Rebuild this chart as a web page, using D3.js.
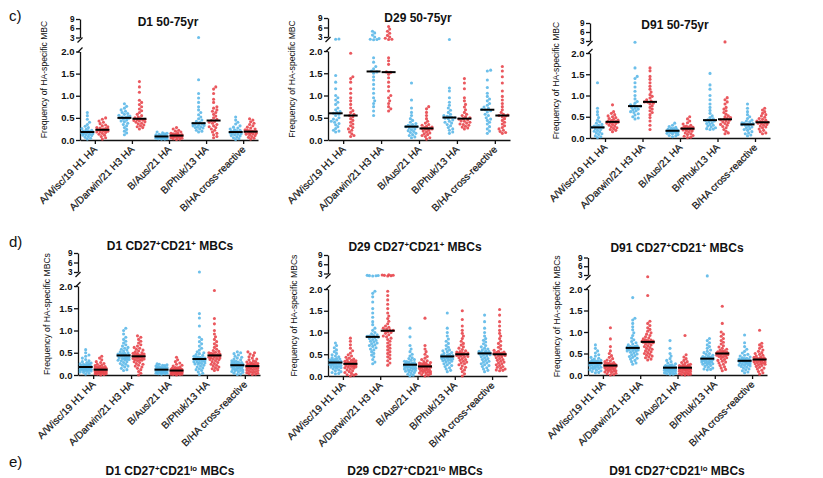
<!DOCTYPE html>
<html>
<head>
<meta charset="UTF-8" />
<title>HA-specific MBC frequencies</title>
<script src="https://cdn.jsdelivr.net/npm/d3@7"></script>
<style>
  body { margin: 0; background: #fff; }
  text { font-family: "Liberation Sans", Arial, sans-serif; fill: #111; }
</style>
</head>
<body>
<svg id="fig" width="823" height="478"></svg>
<script>
// categories and axis ticks
const categories = ["A/Wisc/19 H1 HA", "A/Darwin/21 H3 HA", "B/Aus/21 HA", "B/Phuk/13 HA", "B/HA cross-reactive"];
const yTicksLow = [0, 0.5, 1, 1.5, 2];
const yTicksHigh = [3, 6, 9];

// c) total HA-specific MBC, 50-75yr  (one array per category)
const c1Blue = [
  [0.62,0.55,0.47,0.40,0.35,0.31,0.28,0.26,0.24,0.22,0.21,0.20,0.19,0.18,0.18,0.17,0.16,0.15,0.14,0.13,0.12,0.11,0.10,0.08,0.06,0.04,0.02],
  [0.82,0.76,0.72,0.68,0.65,0.62,0.60,0.58,0.56,0.54,0.53,0.52,0.51,0.50,0.49,0.47,0.45,0.43,0.41,0.38,0.35,0.32,0.28,0.24,0.20,0.16,0.12],
  [0.18,0.16,0.15,0.14,0.13,0.12,0.11,0.10,0.10,0.09,0.09,0.08,0.08,0.08,0.07,0.07,0.07,0.06,0.06,0.05,0.05,0.04,0.04,0.03,0.03,0.02,0.02],
  [3.0,1.36,1.05,0.95,0.85,0.75,0.68,0.62,0.57,0.52,0.48,0.45,0.42,0.40,0.38,0.37,0.36,0.35,0.34,0.33,0.32,0.30,0.29,0.28,0.27,0.25,0.22,0.20,0.18],
  [0.52,0.45,0.40,0.36,0.32,0.29,0.27,0.25,0.23,0.22,0.21,0.20,0.19,0.18,0.18,0.17,0.16,0.15,0.14,0.13,0.12,0.10,0.09,0.07,0.05,0.03,0.01]
];
const c1Red = [
  [0.50,0.47,0.43,0.40,0.37,0.34,0.32,0.30,0.28,0.27,0.26,0.25,0.24,0.23,0.23,0.22,0.21,0.20,0.19,0.18,0.17,0.15,0.13,0.11,0.08,0.05,0.02],
  [1.32,1.20,1.08,0.90,0.85,0.80,0.75,0.70,0.66,0.62,0.58,0.55,0.52,0.50,0.48,0.47,0.46,0.45,0.44,0.43,0.41,0.40,0.38,0.36,0.34,0.32,0.30,0.28,0.25],
  [0.28,0.25,0.22,0.20,0.18,0.16,0.15,0.14,0.13,0.12,0.12,0.11,0.11,0.10,0.10,0.10,0.09,0.09,0.08,0.08,0.07,0.06,0.05,0.04,0.03,0.02,0.01],
  [1.20,1.15,1.05,0.92,0.85,0.75,0.72,0.68,0.65,0.62,0.58,0.54,0.50,0.47,0.44,0.42,0.40,0.38,0.35,0.32,0.30,0.28,0.25,0.22,0.18,0.15,0.12,0.08,0.05],
  [0.48,0.45,0.41,0.38,0.35,0.32,0.29,0.27,0.25,0.23,0.22,0.21,0.20,0.19,0.19,0.18,0.17,0.16,0.15,0.14,0.13,0.12,0.10,0.08,0.06,0.04,0.02]
];
const c2Blue = [
  [2.35,2.3,1.45,1.30,1.15,1.00,0.95,0.90,0.85,0.80,0.72,0.68,0.64,0.62,0.60,0.58,0.55,0.50,0.47,0.45,0.42,0.40,0.37,0.34,0.30,0.26,0.22,0.20,0.18],
  [4.8,4.3,3.6,3.0,2.5,2.3,2.2,2.15,1.85,1.75,1.65,1.60,1.55,1.53,1.50,1.42,1.35,1.25,1.15,1.05,0.95,0.88,0.82,0.75,0.65,0.55],
  [1.28,0.90,0.72,0.62,0.55,0.48,0.44,0.40,0.37,0.35,0.33,0.32,0.31,0.30,0.30,0.29,0.27,0.25,0.23,0.21,0.19,0.17,0.15,0.12,0.10,0.07,0.05],
  [2.2,1.17,1.10,0.95,0.85,0.78,0.72,0.67,0.62,0.58,0.55,0.53,0.52,0.51,0.50,0.49,0.48,0.45,0.42,0.40,0.38,0.35,0.32,0.28,0.25,0.22,0.18,0.15],
  [1.57,1.55,1.35,1.18,1.05,0.98,0.92,0.88,0.82,0.78,0.74,0.71,0.69,0.68,0.66,0.63,0.58,0.55,0.50,0.47,0.44,0.40,0.36,0.30,0.25,0.20,0.15]
];
const c2Red = [
  [1.95,1.42,1.38,1.30,1.15,1.05,0.95,0.88,0.80,0.72,0.66,0.62,0.58,0.55,0.52,0.48,0.44,0.40,0.36,0.32,0.28,0.25,0.22,0.18,0.14,0.10,0.08],
  [6.3,5.5,4.8,4.2,3.5,3.0,2.6,2.3,2.2,1.85,1.78,1.70,1.53,1.52,1.48,1.40,1.30,1.20,1.10,1.00,0.95,0.88,0.82,0.75,0.70,0.65],
  [0.75,0.70,0.62,0.55,0.48,0.42,0.38,0.35,0.33,0.31,0.29,0.28,0.27,0.26,0.26,0.25,0.24,0.22,0.20,0.18,0.16,0.14,0.12,0.10,0.08,0.05,0.02],
  [1.38,1.28,1.15,0.95,0.88,0.80,0.74,0.68,0.62,0.58,0.55,0.52,0.50,0.48,0.47,0.45,0.43,0.42,0.40,0.38,0.36,0.35,0.33,0.31,0.29,0.27,0.25],
  [1.65,1.55,1.42,1.28,1.10,0.98,0.90,0.82,0.75,0.68,0.62,0.58,0.56,0.55,0.54,0.52,0.48,0.44,0.40,0.36,0.32,0.28,0.25,0.22,0.19,0.17,0.15]
];
const c3Blue = [
  [1.30,0.70,0.62,0.55,0.48,0.42,0.38,0.35,0.32,0.30,0.28,0.27,0.26,0.25,0.25,0.24,0.22,0.20,0.18,0.16,0.14,0.12,0.10,0.08,0.05,0.03,0.01],
  [2.6,1.65,1.45,1.40,1.30,1.20,1.10,1.00,0.92,0.86,0.82,0.78,0.76,0.75,0.74,0.72,0.70,0.68,0.66,0.64,0.62,0.60,0.57,0.54,0.50,0.47,0.45],
  [0.35,0.30,0.27,0.25,0.23,0.22,0.21,0.20,0.19,0.18,0.18,0.17,0.17,0.17,0.16,0.16,0.15,0.15,0.14,0.13,0.12,0.11,0.10,0.08,0.06,0.05,0.03],
  [1.52,1.25,1.15,1.00,0.90,0.80,0.72,0.65,0.58,0.52,0.48,0.45,0.43,0.42,0.41,0.40,0.38,0.36,0.34,0.32,0.30,0.28,0.26,0.24,0.22,0.21,0.20],
  [0.80,0.70,0.62,0.55,0.50,0.46,0.42,0.40,0.38,0.36,0.35,0.34,0.33,0.32,0.31,0.30,0.28,0.26,0.24,0.22,0.20,0.18,0.15,0.12,0.10,0.07,0.05]
];
const c3Red = [
  [0.78,0.62,0.58,0.55,0.52,0.50,0.48,0.46,0.44,0.42,0.41,0.40,0.39,0.38,0.37,0.36,0.35,0.34,0.32,0.30,0.28,0.26,0.24,0.22,0.20,0.18,0.15],
  [1.65,1.58,1.45,1.38,1.30,1.22,1.15,1.08,1.02,0.98,0.94,0.90,0.87,0.85,0.84,0.82,0.80,0.76,0.72,0.68,0.64,0.60,0.55,0.48,0.40,0.30,0.20],
  [0.50,0.45,0.40,0.36,0.33,0.30,0.28,0.27,0.26,0.25,0.24,0.23,0.22,0.22,0.21,0.20,0.19,0.18,0.16,0.14,0.12,0.10,0.08,0.06,0.04,0.02,0.01],
  [2.7,0.95,0.90,0.85,0.80,0.72,0.68,0.64,0.60,0.56,0.52,0.50,0.48,0.46,0.44,0.43,0.42,0.40,0.38,0.36,0.34,0.32,0.30,0.27,0.24,0.20,0.16,0.12,0.10],
  [0.70,0.66,0.62,0.58,0.55,0.52,0.49,0.46,0.44,0.42,0.40,0.39,0.38,0.37,0.36,0.35,0.34,0.32,0.30,0.28,0.26,0.24,0.21,0.18,0.15,0.12,0.10]
];

// d) CD27+CD21+ MBCs
const d1Blue = [
  [0.57,0.50,0.45,0.42,0.38,0.35,0.32,0.30,0.28,0.27,0.26,0.25,0.24,0.23,0.22,0.22,0.21,0.21,0.20,0.20,0.19,0.19,0.18,0.18,0.17,0.17,0.16,0.16,0.15,0.15,0.14,0.14,0.13,0.13,0.12,0.12,0.11,0.10,0.10,0.09,0.08,0.07,0.06,0.04,0.02],
  [1.05,1.00,0.92,0.85,0.80,0.76,0.72,0.68,0.65,0.62,0.60,0.58,0.56,0.54,0.52,0.50,0.49,0.48,0.47,0.46,0.45,0.45,0.44,0.43,0.42,0.41,0.40,0.39,0.38,0.37,0.36,0.35,0.34,0.33,0.32,0.30,0.28,0.26,0.24,0.22,0.20,0.18,0.15,0.12,0.10],
  [0.25,0.24,0.23,0.22,0.21,0.20,0.19,0.18,0.17,0.17,0.16,0.16,0.15,0.15,0.14,0.14,0.13,0.13,0.13,0.12,0.12,0.12,0.12,0.11,0.11,0.11,0.10,0.10,0.10,0.09,0.09,0.09,0.08,0.08,0.07,0.07,0.06,0.06,0.05,0.05,0.04,0.04,0.03,0.03,0.02],
  [3.0,1.38,1.28,1.10,0.85,0.80,0.75,0.70,0.65,0.60,0.56,0.52,0.50,0.48,0.46,0.44,0.42,0.41,0.40,0.39,0.38,0.37,0.36,0.35,0.34,0.33,0.32,0.31,0.30,0.29,0.28,0.27,0.26,0.25,0.24,0.22,0.20,0.18,0.16,0.14,0.12,0.10,0.07,0.04,0.01],
  [0.52,0.50,0.48,0.45,0.42,0.40,0.38,0.36,0.34,0.32,0.31,0.30,0.29,0.28,0.27,0.26,0.25,0.25,0.24,0.24,0.23,0.23,0.22,0.22,0.21,0.21,0.20,0.20,0.19,0.18,0.17,0.16,0.15,0.14,0.13,0.12,0.11,0.10,0.09,0.08,0.07,0.06,0.04,0.02,0.01]
];
const d1Red = [
  [0.42,0.38,0.34,0.30,0.28,0.26,0.24,0.22,0.21,0.20,0.19,0.18,0.17,0.16,0.16,0.15,0.15,0.14,0.14,0.13,0.13,0.12,0.12,0.12,0.11,0.11,0.10,0.10,0.09,0.09,0.08,0.08,0.07,0.07,0.06,0.06,0.05,0.05,0.04,0.04,0.03,0.03,0.02,0.01,0.00],
  [0.88,0.85,0.80,0.76,0.72,0.68,0.65,0.62,0.60,0.58,0.56,0.54,0.52,0.50,0.49,0.48,0.47,0.46,0.45,0.44,0.43,0.43,0.42,0.41,0.40,0.39,0.38,0.37,0.36,0.35,0.34,0.33,0.32,0.30,0.28,0.26,0.24,0.22,0.20,0.18,0.15,0.12,0.08,0.04,0.00],
  [0.40,0.34,0.30,0.27,0.24,0.22,0.20,0.18,0.17,0.16,0.15,0.14,0.14,0.13,0.13,0.12,0.12,0.11,0.11,0.11,0.10,0.10,0.10,0.10,0.09,0.09,0.09,0.08,0.08,0.08,0.07,0.07,0.06,0.06,0.05,0.05,0.04,0.04,0.03,0.03,0.02,0.02,0.01,0.01,0.00],
  [1.90,1.27,1.15,1.00,0.92,0.86,0.80,0.75,0.70,0.66,0.62,0.58,0.55,0.53,0.51,0.50,0.49,0.48,0.47,0.46,0.45,0.45,0.44,0.43,0.42,0.41,0.40,0.39,0.38,0.37,0.36,0.35,0.34,0.32,0.30,0.28,0.26,0.24,0.22,0.20,0.18,0.16,0.14,0.12,0.10],
  [0.52,0.50,0.47,0.44,0.41,0.38,0.36,0.34,0.32,0.30,0.29,0.28,0.27,0.26,0.25,0.24,0.24,0.23,0.23,0.22,0.21,0.21,0.20,0.20,0.19,0.19,0.18,0.18,0.17,0.16,0.15,0.14,0.13,0.12,0.11,0.10,0.09,0.08,0.07,0.06,0.05,0.04,0.03,0.02,0.01]
];
const d2Blue = [
  [0.76,0.70,0.65,0.60,0.56,0.52,0.49,0.46,0.44,0.42,0.40,0.39,0.38,0.37,0.36,0.35,0.34,0.34,0.33,0.33,0.32,0.32,0.31,0.31,0.30,0.30,0.29,0.28,0.27,0.26,0.25,0.24,0.23,0.22,0.21,0.20,0.19,0.18,0.16,0.14,0.12,0.10,0.08,0.06,0.05],
  [2.4,2.35,2.3,2.25,2.2,1.95,1.90,1.82,1.70,1.55,1.45,1.35,1.25,1.18,1.10,1.05,1.00,0.97,0.95,0.93,0.92,0.91,0.90,0.89,0.88,0.86,0.84,0.82,0.80,0.78,0.76,0.74,0.72,0.70,0.68,0.65,0.62,0.60,0.56,0.52,0.48,0.44,0.38,0.32,0.28],
  [1.10,0.90,0.70,0.62,0.56,0.50,0.46,0.42,0.40,0.38,0.36,0.34,0.33,0.32,0.31,0.30,0.29,0.28,0.28,0.27,0.27,0.26,0.26,0.25,0.25,0.24,0.23,0.22,0.21,0.20,0.19,0.18,0.17,0.16,0.15,0.14,0.13,0.12,0.11,0.10,0.08,0.06,0.04,0.02,0.00],
  [1.45,1.10,1.00,0.92,0.85,0.80,0.75,0.70,0.66,0.62,0.60,0.58,0.56,0.54,0.52,0.50,0.49,0.48,0.47,0.46,0.46,0.45,0.45,0.44,0.44,0.43,0.42,0.41,0.40,0.39,0.38,0.37,0.36,0.35,0.34,0.32,0.30,0.28,0.26,0.24,0.22,0.19,0.16,0.13,0.10],
  [1.40,1.25,1.10,1.00,0.92,0.86,0.82,0.78,0.74,0.70,0.67,0.64,0.62,0.60,0.58,0.57,0.56,0.55,0.54,0.54,0.53,0.53,0.52,0.52,0.51,0.50,0.49,0.48,0.46,0.44,0.42,0.40,0.38,0.36,0.34,0.32,0.30,0.28,0.26,0.24,0.22,0.19,0.16,0.13,0.10]
];
const d2Red = [
  [0.87,0.80,0.72,0.64,0.58,0.53,0.49,0.46,0.43,0.41,0.39,0.37,0.36,0.35,0.34,0.33,0.32,0.31,0.30,0.30,0.29,0.29,0.28,0.28,0.27,0.27,0.26,0.25,0.24,0.23,0.22,0.21,0.20,0.19,0.18,0.16,0.14,0.12,0.10,0.08,0.06,0.04,0.03,0.02,0.00],
  [2.6,2.5,2.45,2.4,2.3,2.2,1.95,1.85,1.75,1.65,1.55,1.45,1.38,1.32,1.26,1.20,1.15,1.12,1.10,1.08,1.06,1.05,1.04,1.02,1.00,0.98,0.95,0.92,0.90,0.87,0.84,0.80,0.76,0.72,0.68,0.64,0.60,0.56,0.52,0.48,0.44,0.40,0.35,0.30,0.25],
  [1.33,0.70,0.62,0.56,0.50,0.45,0.41,0.38,0.35,0.33,0.31,0.30,0.29,0.28,0.27,0.26,0.25,0.25,0.24,0.24,0.23,0.23,0.22,0.22,0.21,0.21,0.20,0.19,0.18,0.17,0.16,0.15,0.14,0.13,0.12,0.11,0.10,0.09,0.08,0.07,0.06,0.05,0.03,0.02,0.00],
  [1.50,1.30,1.15,1.05,0.98,0.92,0.86,0.80,0.75,0.71,0.67,0.64,0.61,0.58,0.56,0.55,0.54,0.53,0.52,0.52,0.51,0.51,0.50,0.49,0.48,0.47,0.46,0.45,0.44,0.42,0.40,0.38,0.36,0.34,0.32,0.30,0.28,0.26,0.23,0.20,0.17,0.14,0.10,0.05,0.00],
  [1.53,1.40,1.25,1.15,1.05,0.98,0.92,0.86,0.80,0.75,0.70,0.66,0.62,0.59,0.57,0.55,0.54,0.53,0.52,0.52,0.51,0.51,0.50,0.49,0.48,0.47,0.46,0.44,0.42,0.40,0.38,0.36,0.34,0.32,0.30,0.28,0.26,0.24,0.22,0.20,0.18,0.16,0.14,0.13,0.12]
];
const d3Blue = [
  [0.70,0.62,0.56,0.51,0.47,0.44,0.41,0.39,0.37,0.35,0.34,0.33,0.32,0.31,0.31,0.30,0.30,0.29,0.29,0.29,0.28,0.28,0.28,0.27,0.27,0.26,0.26,0.25,0.24,0.23,0.22,0.21,0.20,0.19,0.18,0.17,0.16,0.15,0.14,0.12,0.11,0.10,0.08,0.06,0.05],
  [1.80,1.32,1.28,1.20,1.12,1.05,0.98,0.92,0.86,0.82,0.78,0.75,0.72,0.70,0.68,0.67,0.66,0.65,0.65,0.64,0.64,0.63,0.63,0.62,0.62,0.61,0.60,0.59,0.58,0.57,0.56,0.55,0.53,0.51,0.49,0.47,0.45,0.43,0.41,0.39,0.37,0.34,0.31,0.28,0.25],
  [0.80,0.62,0.50,0.44,0.38,0.34,0.31,0.28,0.26,0.24,0.23,0.22,0.21,0.20,0.20,0.19,0.19,0.18,0.18,0.18,0.17,0.17,0.17,0.16,0.16,0.16,0.15,0.15,0.14,0.14,0.13,0.13,0.12,0.12,0.11,0.10,0.09,0.08,0.07,0.06,0.05,0.04,0.03,0.02,0.02],
  [2.7,0.85,0.80,0.75,0.70,0.66,0.62,0.58,0.55,0.52,0.50,0.48,0.46,0.44,0.43,0.42,0.41,0.40,0.40,0.39,0.39,0.38,0.38,0.37,0.37,0.36,0.35,0.34,0.33,0.32,0.31,0.30,0.29,0.28,0.27,0.26,0.25,0.24,0.22,0.20,0.18,0.16,0.14,0.13,0.12],
  [0.93,0.75,0.66,0.60,0.55,0.51,0.48,0.46,0.44,0.42,0.40,0.39,0.38,0.37,0.36,0.36,0.35,0.35,0.34,0.34,0.34,0.33,0.33,0.32,0.32,0.31,0.31,0.30,0.29,0.28,0.27,0.26,0.25,0.24,0.23,0.22,0.21,0.20,0.18,0.16,0.14,0.12,0.10,0.07,0.05]
];
const d3Red = [
  [1.10,0.84,0.66,0.56,0.50,0.45,0.41,0.38,0.35,0.33,0.31,0.29,0.28,0.27,0.26,0.25,0.25,0.24,0.24,0.23,0.23,0.22,0.22,0.21,0.21,0.20,0.20,0.19,0.18,0.17,0.16,0.15,0.14,0.13,0.12,0.11,0.10,0.09,0.08,0.07,0.06,0.04,0.03,0.01,0.00],
  [2.4,1.85,1.25,1.20,1.15,1.10,1.06,1.02,0.98,0.95,0.92,0.89,0.86,0.84,0.82,0.81,0.80,0.79,0.79,0.78,0.78,0.77,0.77,0.76,0.75,0.74,0.72,0.70,0.68,0.66,0.64,0.62,0.60,0.58,0.56,0.54,0.52,0.50,0.48,0.46,0.44,0.42,0.40,0.37,0.35],
  [0.92,0.47,0.42,0.38,0.34,0.31,0.29,0.27,0.25,0.24,0.23,0.22,0.21,0.20,0.20,0.19,0.19,0.18,0.18,0.18,0.17,0.17,0.17,0.16,0.16,0.15,0.15,0.14,0.14,0.13,0.13,0.12,0.11,0.10,0.09,0.08,0.07,0.06,0.05,0.04,0.03,0.02,0.01,0.01,0.00],
  [1.60,1.20,1.00,0.95,0.90,0.85,0.80,0.76,0.72,0.68,0.65,0.62,0.60,0.58,0.56,0.55,0.54,0.53,0.52,0.52,0.51,0.51,0.50,0.50,0.49,0.48,0.47,0.46,0.45,0.44,0.43,0.42,0.40,0.38,0.36,0.34,0.32,0.30,0.28,0.25,0.22,0.19,0.16,0.13,0.10],
  [1.04,0.74,0.70,0.66,0.62,0.58,0.55,0.52,0.50,0.48,0.46,0.44,0.42,0.41,0.40,0.39,0.38,0.38,0.37,0.37,0.36,0.36,0.36,0.35,0.35,0.34,0.33,0.32,0.31,0.30,0.29,0.28,0.27,0.26,0.25,0.24,0.22,0.20,0.18,0.16,0.14,0.11,0.08,0.05,0.02]
];

const blueColor = "#5cb8e8";
const redColor = "#e8464d";

// panel placement (pixel layout of the figure)
const panels = [
  { blue: c1Blue, red: c1Red, x0: 80, x1: 258, y0: 140, y2: 51.5, y3: 37.5, y9: 19, tx: 168, ty: 26, lx: 45,
    title: [["D1 50-75yr"]], ylab: "Frequency of HA-specific MBC" },
  { blue: c2Blue, red: c2Red, x0: 328, x1: 510, y0: 140, y2: 51, y3: 37, y9: 18, tx: 418, ty: 22, lx: 293,
    title: [["D29 50-75yr"]], ylab: "Frequency of HA-specific MBC" },
  { blue: c3Blue, red: c3Red, x0: 590, x1: 770, y0: 138, y2: 53, y3: 41, y9: 23, tx: 675, ty: 29, lx: 557,
    title: [["D91 50-75yr"]], ylab: "Frequency of HA-specific MBC" },
  { blue: d1Blue, red: d1Red, x0: 78, x1: 260, y0: 375, y2: 286, y3: 272, y9: 253, tx: 170, ty: 250, lx: 48,
    title: [["D1 CD27"], ["+", true], ["CD21"], ["+", true], [" MBCs"]], ylab: "Frequency of HA-specific MBCs" },
  { blue: d2Blue, red: d2Red, x0: 328, x1: 507, y0: 376, y2: 289, y3: 273.5, y9: 255, tx: 415, ty: 251, lx: 295,
    title: [["D29 CD27"], ["+", true], ["CD21"], ["+", true], [" MBCs"]], ylab: "Frequency of HA-specific MBCs" },
  { blue: d3Blue, red: d3Red, x0: 588, x1: 767, y0: 375, y2: 289, y3: 275, y9: 257.5, tx: 677, ty: 252, lx: 558,
    title: [["D91 CD27"], ["+", true], ["CD21"], ["+", true], [" MBCs"]], ylab: "Frequency of HA-specific MBCs" }
];

const svg = d3.select("#fig");

function addTitle(g, parts, x, y, size) {
  const t = g.append("text").attr("x", x).attr("y", y)
    .attr("text-anchor", "middle").attr("font-size", size).attr("font-weight", "bold");
  let up = false;
  parts.forEach(([s, sup]) => {
    const sp = t.append("tspan").text(s);
    if (sup && !up) { sp.attr("dy", -4).attr("font-size", size * 0.65); up = true; }
    else if (sup) { sp.attr("font-size", size * 0.65); }
    else if (up) { sp.attr("dy", 4); up = false; }
  });
}

// simple beeswarm: spread dots sideways when they collide
function swarm(vals, yPos, diam, maxOff) {
  const pts = vals.map(v => ({ v, y: yPos(v) })).sort((a, b) => b.y - a.y);
  const placed = [];
  const step = 1.1;
  const n = Math.floor(maxOff / step);
  pts.forEach(d => {
    let best = 0, bestScore = -Infinity;
    for (let k = 0; k <= n * 2; k++) {
      const off = (k % 2 ? 1 : -1) * Math.ceil(k / 2) * step;
      let md = Infinity;
      placed.forEach(q => { const dd = Math.hypot(q.dx - off, q.y - d.y); if (dd < md) md = dd; });
      if (md >= diam) { best = off; break; }
      if (md > bestScore) { bestScore = md; best = off; }
    }
    d.dx = best;
    placed.push(d);
  });
  return placed;
}

function drawPanel(p) {
  const g = svg.append("g");
  const x = d3.scalePoint().domain(categories).range([p.x0, p.x1]).padding(0.4);
  const side = d3.scalePoint().domain(["blue", "red"]).range([-7.5, 7.5]);
  const yLow = d3.scaleLinear().domain([0, 2]).range([p.y0, p.y2]);
  const yHigh = d3.scaleLinear().domain([3, 9]).range([p.y3, p.y9]);
  const yPos = v => v > 2 ? yHigh(v) : yLow(v);

  // y axis, lower segment
  const aL = g.append("g").attr("transform", `translate(${p.x0},0)`)
    .call(d3.axisLeft(yLow).tickValues(yTicksLow).tickFormat(d3.format(".1f")).tickSize(4).tickSizeOuter(0));
  // y axis, upper segment
  const aH = g.append("g").attr("transform", `translate(${p.x0},0)`)
    .call(d3.axisLeft(yHigh).tickValues(yTicksHigh).tickFormat(d3.format("d")).tickSize(4).tickSizeOuter(0));
  [[aL, 9.5], [aH, 8.2]].forEach(([a, fs]) => {
    a.selectAll("path, line").attr("stroke", "#111").attr("stroke-width", 1.3);
    a.selectAll("text").attr("font-size", fs).attr("font-weight", "bold").attr("fill", "#1a1a1a")
      .attr("font-family", "'Liberation Sans', Arial, sans-serif").attr("x", -5.5);
  });
  // break slashes
  g.append("line").attr("x1", p.x0 - 2.5).attr("y1", p.y3 + 5).attr("x2", p.x0 + 2.5).attr("y2", p.y3)
    .attr("stroke", "#111").attr("stroke-width", 1.3);
  g.append("line").attr("x1", p.x0 - 2.5).attr("y1", p.y2 + 1).attr("x2", p.x0 + 2.5).attr("y2", p.y2 - 4)
    .attr("stroke", "#111").attr("stroke-width", 1.3);

  // x axis
  const aX = g.append("g").attr("transform", `translate(0,${p.y0})`)
    .call(d3.axisBottom(x).tickSize(4).tickSizeOuter(0).tickFormat(""));
  aX.selectAll("path, line").attr("stroke", "#111").attr("stroke-width", 1.3);
  g.selectAll(".cat").data(categories).join("text").attr("class", "cat")
    .attr("transform", d => `translate(${x(d) + 3},${p.y0 + 10}) rotate(-45)`)
    .attr("text-anchor", "end").attr("font-size", 10).attr("fill", "#111")
    .attr("stroke", "#111").attr("stroke-width", 0.2)
    .text(d => d);

  // y axis title
  g.append("text")
    .attr("transform", `translate(${p.lx},${(p.y9 + p.y0) / 2}) rotate(-90)`)
    .attr("text-anchor", "middle").attr("dominant-baseline", "middle")
    .attr("font-size", 8.6).attr("fill", "#000").text(p.ylab);

  addTitle(g, p.title, p.tx, p.ty, 12);

  // dots and medians
  [["blue", p.blue, blueColor], ["red", p.red, redColor]].forEach(([key, series, col]) => {
    series.forEach((vals, i) => {
      const cx = x(categories[i]) + side(key);
      const pts = swarm(vals, yPos, 2.7, 6.5);
      g.append("g").selectAll("circle").data(pts).join("circle")
        .attr("cx", d => cx + d.dx).attr("cy", d => d.y).attr("r", 1.55)
        .attr("fill", col).attr("fill-opacity", 0.9);
      const m = d3.median(vals);
      g.append("line").attr("x1", cx - 7).attr("x2", cx + 7)
        .attr("y1", yPos(m)).attr("y2", yPos(m))
        .attr("stroke", "#000").attr("stroke-width", 2);
    });
  });
}

panels.forEach(drawPanel);

// panel letters
[["c)", 9, 21], ["d)", 9, 247], ["e)", 9, 467]].forEach(([s, x, y]) => {
  svg.append("text").attr("x", x).attr("y", y).attr("font-size", 15).attr("fill", "#333").text(s);
});

// row e titles (plots are below the crop)
[["D1", 170], ["D29", 415], ["D91", 677]].forEach(([d, x]) => {
  addTitle(svg, [[d + " CD27"], ["+", true], ["CD21"], ["lo", true], [" MBCs"]], x, 475, 12);
});
</script>
</body>
</html>
